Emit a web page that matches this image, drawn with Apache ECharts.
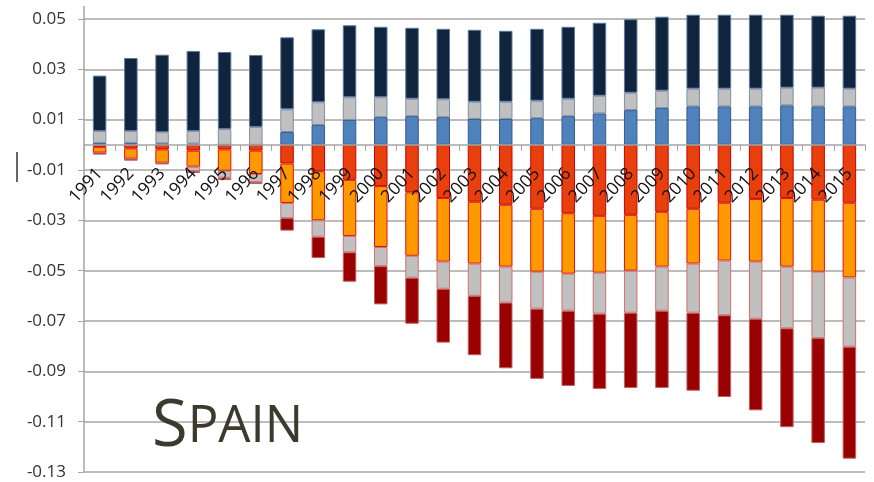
<!DOCTYPE html>
<html>
<head>
<meta charset="utf-8">
<script src="https://cdn.jsdelivr.net/npm/echarts@6/dist/echarts.min.js"></script>
<style>html,body{margin:0;padding:0;background:#fff}#c{width:874px;height:482px}</style>
</head>
<body>
<div id="c"></div>
<script>
var years = ['1991','1992','1993','1994','1995','1996','1997','1998','1999','2000','2001','2002','2003','2004','2005','2006','2007','2008','2009','2010','2011','2012','2013','2014','2015'];
// positive components
var posBlue = [0.0008,0.0008,0.0006,0.0005,0.0000,0.0000,0.0051,0.0079,0.0099,0.0110,0.0114,0.0110,0.0103,0.0103,0.0106,0.0114,0.0125,0.0138,0.0146,0.0153,0.0153,0.0153,0.0157,0.0153,0.0153];
var posGrey = [0.0047,0.0047,0.0044,0.0050,0.0063,0.0071,0.0090,0.0090,0.0090,0.0079,0.0069,0.0071,0.0068,0.0068,0.0069,0.0069,0.0070,0.0069,0.0069,0.0070,0.0070,0.0070,0.0070,0.0074,0.0070];
var posNavy = [0.0220,0.0290,0.0308,0.0318,0.0306,0.0286,0.0286,0.0290,0.0286,0.0280,0.0282,0.0280,0.0286,0.0282,0.0286,0.0286,0.0290,0.0292,0.0294,0.0294,0.0294,0.0294,0.0290,0.0286,0.0290];
// negative components
var negRed = [-0.0008,-0.0014,-0.0018,-0.0023,-0.0018,-0.0023,-0.0074,-0.0105,-0.0139,-0.0164,-0.0189,-0.0211,-0.0226,-0.0238,-0.0254,-0.0272,-0.0282,-0.0278,-0.0266,-0.0254,-0.0230,-0.0215,-0.0211,-0.0218,-0.0230];
var negOrange = [-0.0023,-0.0041,-0.0053,-0.0064,-0.0085,-0.0093,-0.0157,-0.0195,-0.0223,-0.0242,-0.0252,-0.0253,-0.0246,-0.0246,-0.0250,-0.0240,-0.0226,-0.0222,-0.0218,-0.0218,-0.0230,-0.0249,-0.0273,-0.0286,-0.0297];
var negGrey = [0.0000,0.0000,0.0000,-0.0017,-0.0028,-0.0032,-0.0060,-0.0065,-0.0065,-0.0076,-0.0087,-0.0108,-0.0128,-0.0143,-0.0147,-0.0147,-0.0163,-0.0167,-0.0175,-0.0195,-0.0217,-0.0227,-0.0245,-0.0264,-0.0275];
var negDark = [-0.0008,-0.0008,-0.0007,-0.0008,-0.0009,-0.0008,-0.0050,-0.0085,-0.0117,-0.0152,-0.0183,-0.0214,-0.0236,-0.0261,-0.0279,-0.0299,-0.0299,-0.0299,-0.0307,-0.0310,-0.0325,-0.0364,-0.0393,-0.0417,-0.0445];

var yMin = -0.13, yMax = 0.055;
var gridTop = 6.4, gridBottom = 10, H = 482;
var plotH = H - gridTop - gridBottom;
var zeroOffset = (0 - yMin) / (yMax - yMin) * plotH; // distance from plot bottom to zero line

var chart = echarts.init(document.getElementById('c'), null, {renderer: 'canvas'});
function bar(name, data, color, border) {
  return {
    name: name, type: 'bar', stack: 'all', data: data, barWidth: 13.5,
    itemStyle: {color: color, borderColor: border, borderWidth: 1},
    emphasis: {disabled: true}, animation: false
  };
}
chart.setOption({
  animation: false,
  grid: {left: 84, right: 9, top: gridTop, bottom: gridBottom, containLabel: false, outerBoundsMode: 'none'},
  xAxis: {
    type: 'category', data: years, boundaryGap: true, position: 'bottom', offset: -zeroOffset,
    axisLine: {onZero: false, lineStyle: {color: '#a6a6a6', width: 1.5}},
    axisTick: {show: true, alignWithLabel: false, length: 6, lineStyle: {color: '#a6a6a6', width: 1}},
    axisLabel: {rotate: 47, margin: 26, fontSize: 17.5, color: '#111', fontFamily: 'Open Sans', interval: 0, hideOverlap: false},
    z: 5
  },
  yAxis: {
    type: 'value', min: yMin, max: yMax, interval: 0.02,
    axisLine: {show: true, onZero: false, lineStyle: {color: '#a6a6a6', width: 1.5}},
    axisTick: {show: true, length: 6, lineStyle: {color: '#a6a6a6'}},
    axisLabel: {fontSize: 17, color: '#333', margin: 18, fontFamily: 'Open Sans', showMaxLabel: false,
      formatter: function (v) { return (Math.round(v * 100) / 100).toFixed(2); }},
    splitLine: {show: true, showMaxLine: false, lineStyle: {color: '#a6a6a6', width: 1.5}}
  },
  series: [
    bar('posBlue', posBlue, '#4f81bd', '#385d8a'),
    bar('posGrey', posGrey, '#c0c0c0', '#7f8fa6'),
    bar('posNavy', posNavy, '#10243e', '#5a7aa0'),
    bar('negRed', negRed, '#e8400c', '#cc0000'),
    bar('negOrange', negOrange, '#ff9900', '#e01010'),
    bar('negGrey', negGrey, '#c0c0c0', '#d07070'),
    bar('negDark', negDark, '#990000', '#c06060')
  ],
  graphic: [
    {type: 'line', shape: {x1: 17, y1: 152, x2: 17, y2: 182}, style: {stroke: '#000', lineWidth: 1.2}},
    {type: 'text', left: 152, top: 395, z: 10, style: {
      text: '{a|S}{b|PAIN}', fill: '#3b3a2c',
      rich: {a: {fontSize: 65, fontFamily: 'Open Sans', fill: '#3b3a2c'}, b: {fontSize: 51, fontFamily: 'Open Sans', fill: '#3b3a2c'}}
    }}
  ]
});
</script>
</body>
</html>
